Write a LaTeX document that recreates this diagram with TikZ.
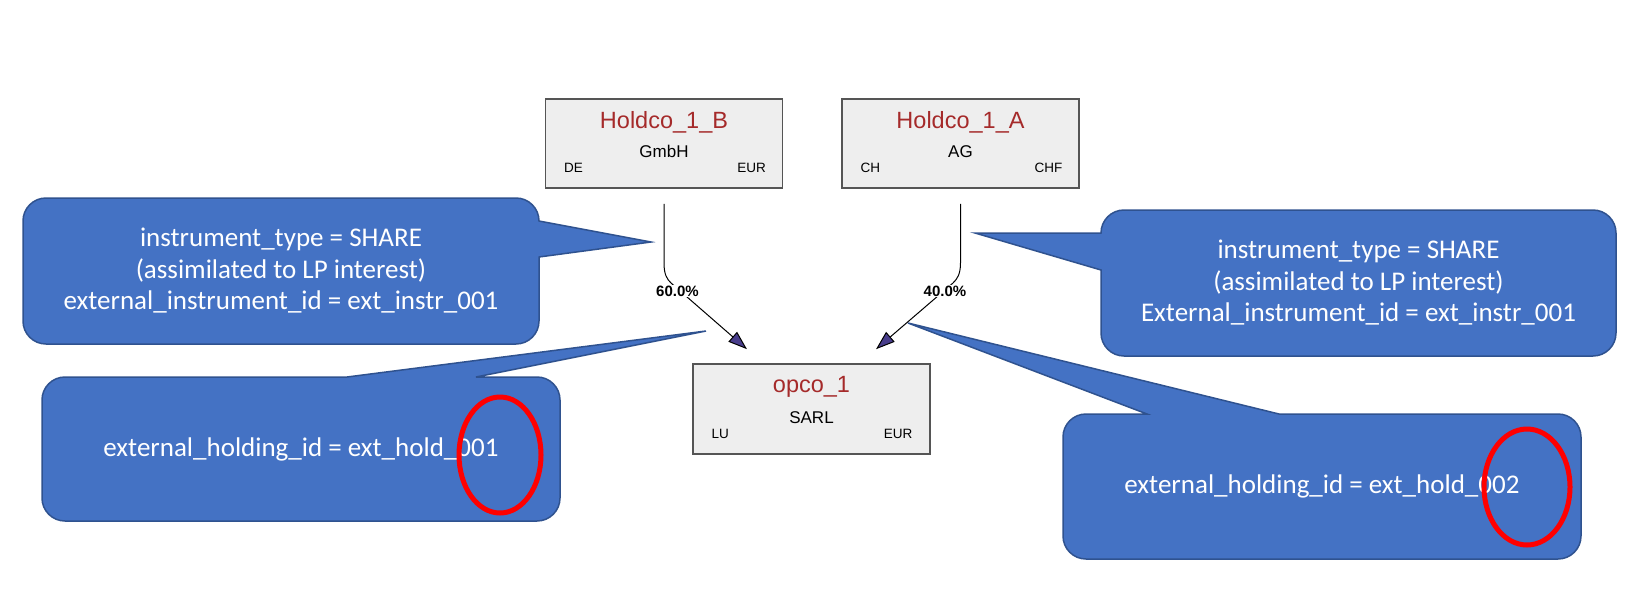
\documentclass[tikz,border=0pt]{standalone}
\usepackage{fontspec}
\setmainfont{Liberation Sans}
\newfontfamily\calloutfont{Carlito}
\usetikzlibrary{calc,arrows.meta}
\definecolor{boxgray}{HTML}{EEEEEE}
\definecolor{boxedge}{HTML}{555555}
\definecolor{namered}{HTML}{A52A2A}
\definecolor{tipblue}{HTML}{483D8B}
\definecolor{calloutblue}{HTML}{4472C4}
\definecolor{calloutedge}{HTML}{2F528F}

\begin{document}
\begin{tikzpicture}[x=1pt,y=-1pt,
    entity/.style={draw=boxedge,fill=boxgray,line width=1.6pt,
        minimum width=237pt,minimum height=89pt,inner sep=0pt},
    ename/.style={anchor=base,text=namered,font=\fontsize{23.5}{28}\selectfont},
    etype/.style={anchor=base,font=\fontsize{17}{20}\selectfont},
    ecorner/.style={font=\fontsize{13.5}{16}\selectfont},
    pct/.style={fill=white,inner sep=1pt,font=\bfseries\fontsize{15}{18}\selectfont},
    link/.style={draw=black,line width=1pt,
        -{Triangle[length=19pt,width=13pt,fill=tipblue]}},
    callout/.style={fill=calloutblue,draw=calloutedge,line width=1.5pt},
    calltext/.style={text=white,align=center,
        font=\calloutfont\fontsize{27}{31.5}\selectfont},
    ring/.style={draw=red,line width=5pt}]
    \useasboundingbox (0,0) rectangle (1650,598);

    % entities
    \node[entity] (hB) at (664,143.5) {};
    \node[entity] (hA) at (960.5,143.5) {};
    \node[entity,minimum height=90pt] (op) at (811.5,409) {};

    \node[ename] (hBname) at ($(hB.north)+(0,30)$) {Holdco\_1\_B};
    \node[etype] (hBtype) at ($(hB.north)+(0,59)$) {GmbH};
    \node[ecorner,anchor=base west] (hBland) at ($(hB.north west)+(16,74)$) {DE};
    \node[ecorner,anchor=base east] (hBcur) at ($(hB.north east)+(-14,74)$) {EUR};

    \node[ename] (hAname) at ($(hA.north)+(0,30)$) {Holdco\_1\_A};
    \node[etype] (hAtype) at ($(hA.north)+(0,59)$) {AG};
    \node[ecorner,anchor=base west] (hAland) at ($(hA.north west)+(16,74)$) {CH};
    \node[ecorner,anchor=base east] (hAcur) at ($(hA.north east)+(-14,74)$) {CHF};

    \node[ename] (opname) at ($(op.north)+(0,29)$) {opco\_1};
    \node[etype] (optype) at ($(op.north)+(0,60)$) {SARL};
    \node[ecorner,anchor=base west] (opland) at ($(op.north west)+(16,75)$) {LU};
    \node[ecorner,anchor=base east] (opcur) at ($(op.north east)+(-15,75)$) {EUR};

    % holdings
    \coordinate (bTop) at ($(hB.south)+(0,15)$);
    \coordinate (aTop) at ($(hA.south)+(0,15)$);
    \coordinate (bTip) at ($(op.north)+(-64.5,-14)$);
    \coordinate (aTip) at ($(op.north)+(64.5,-14)$);

    \draw[link] (bTop) -- ++(0,59) .. controls ++(0,12) and (667,279) .. (671,283) -- (bTip);
    \draw[link] (aTop) -- ++(0,59) .. controls ++(0,12) and (957,279) .. (953,283) -- (aTip);
    \node[pct] (bPct) at (677.5,291) {60.0\%};
    \node[pct] (aPct) at (945,291) {40.0\%};

    % callouts
    \draw[callout] (46,198) -- (516,198) arc[start angle=270,end angle=360,radius=23]
        -- (651,242) -- (539,257) -- (539,321) arc[start angle=0,end angle=90,radius=23]
        -- (46,344) arc[start angle=90,end angle=180,radius=23]
        -- (23,221) arc[start angle=180,end angle=270,radius=23] -- cycle;
    \draw[callout] (1124,210) -- (1593,210) arc[start angle=270,end angle=360,radius=23]
        -- (1616,333) arc[start angle=0,end angle=90,radius=23]
        -- (1124,356) arc[start angle=90,end angle=180,radius=23]
        -- (1101,270) -- (975,233) -- (1101,233)
        arc[start angle=180,end angle=270,radius=23] -- cycle;
    \draw[callout] (65,377) -- (347,377) -- (706,331) -- (476,377) -- (537,377)
        arc[start angle=270,end angle=360,radius=23]
        -- (560,498) arc[start angle=0,end angle=90,radius=23]
        -- (65,521) arc[start angle=90,end angle=180,radius=23]
        -- (42,400) arc[start angle=180,end angle=270,radius=23] -- cycle;
    \draw[callout] (1086,414) -- (1147,414) -- (908,323) -- (1279,414) -- (1558,414)
        arc[start angle=270,end angle=360,radius=23]
        -- (1581,536) arc[start angle=0,end angle=90,radius=23]
        -- (1086,559) arc[start angle=90,end angle=180,radius=23]
        -- (1063,437) arc[start angle=180,end angle=270,radius=23] -- cycle;

    \node[calltext] (instrB) at (281,271) {instrument\_type = SHARE\\(assimilated to LP interest)\\external\_instrument\_id = ext\_instr\_001};
    \node[calltext] (instrA) at (1358.5,283) {instrument\_type = SHARE\\(assimilated to LP interest)\\External\_instrument\_id = ext\_instr\_001};
    \node[calltext] (holdB) at (301,449) {external\_holding\_id = ext\_hold\_001};
    \node[calltext] (holdA) at (1322,486.5) {external\_holding\_id = ext\_hold\_002};

    % marks
    \draw[ring] (500,455) ellipse [x radius=41,y radius=58];
    \draw[ring] (1527,487) ellipse [x radius=43,y radius=58];
\end{tikzpicture}
\end{document}
